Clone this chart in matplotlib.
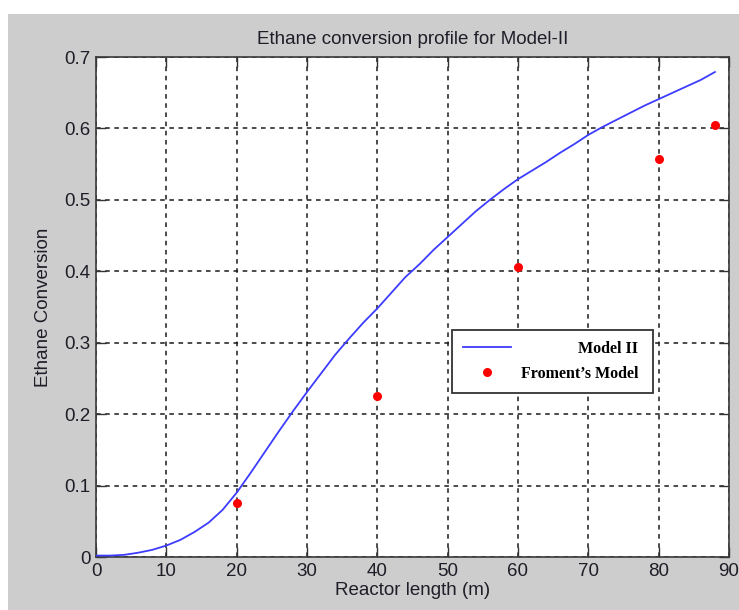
import matplotlib
matplotlib.use("Agg")
import matplotlib.pyplot as plt
from matplotlib.patches import Rectangle

# Model II simulated profile along the reactor
length_model = [0, 2, 4, 6, 8, 10, 12, 14, 16, 18, 20, 22, 24, 26, 28, 30,
                32, 34, 36, 38, 40, 42, 44, 46, 48, 50, 52, 54, 56, 58, 60,
                62, 64, 66, 68, 70, 72, 74, 76, 78, 80, 82, 84, 86, 88]
conv_model = [0.002, 0.002, 0.003, 0.006, 0.010, 0.016, 0.024, 0.035, 0.048,
              0.066, 0.090, 0.118, 0.147, 0.176, 0.204, 0.231, 0.257, 0.283,
              0.306, 0.328, 0.348, 0.370, 0.392, 0.410, 0.430, 0.448, 0.466,
              0.484, 0.500, 0.515, 0.529, 0.541, 0.553, 0.566, 0.578, 0.591,
              0.602, 0.612, 0.622, 0.632, 0.641, 0.650, 0.659, 0.668, 0.679]

# Froment's model reference points
length_froment = [20, 40, 60, 80, 88]
conv_froment = [0.076, 0.226, 0.406, 0.557, 0.605]

x_ticks = [0, 10, 20, 30, 40, 50, 60, 70, 80, 90]
y_ticks = [0, 0.1, 0.2, 0.3, 0.4, 0.5, 0.6, 0.7]
y_tick_labels = ["0", "0.1", "0.2", "0.3", "0.4", "0.5", "0.6", "0.7"]

W, H = 739, 610
fig = plt.figure(figsize=(W / 100, H / 100), dpi=100)
fig.patch.set_facecolor("white")
fig.patches.append(Rectangle((8 / W, 0), 1 - 8 / W, 1 - 14 / H,
                             transform=fig.transFigure, facecolor="#cdcdcd",
                             edgecolor="none", zorder=-10))

ax = fig.add_axes([96 / W, (H - 557) / H, 633 / W, 500 / H])
ax.set_facecolor("white")

font = ["Liberation Sans", "DejaVu Sans"]
txt_color = "#1e1e28"

ax.plot(length_model, conv_model, color="#3c3cff", lw=1.3, label="Model II",
        zorder=3)
ax.plot(length_froment, conv_froment, linestyle="none", marker="o",
        markersize=6.5, color="#ff0000", markeredgewidth=0,
        label="Froment\u2019s Model", zorder=4)

ax.set_xlim(0, 90)
ax.set_ylim(0, 0.7)
ax.set_xticks(x_ticks)
ax.set_xticklabels([str(t) for t in x_ticks], family=font, fontsize=13.5,
                   color=txt_color)
ax.set_yticks(y_ticks)
ax.set_yticklabels(y_tick_labels, family=font, fontsize=13.5, color=txt_color)
ax.tick_params(direction="in", length=7, width=1.0, color="#333333",
               top=True, right=True, pad=4)

ax.grid(True, color="#1a1a1a", linestyle=(0, (3, 3)), linewidth=1.1)
ax.set_axisbelow(True)
for sp in ax.spines.values():
    sp.set_color("#3a3a3a")
    sp.set_linewidth(1.2)

ax.set_title("Ethane conversion profile for Model-II", family=font,
             fontsize=13.5, color=txt_color, pad=9)
ax.set_xlabel("Reactor length (m)", family=font, fontsize=13.5,
              color=txt_color, labelpad=1.5)
ax.set_ylabel("Ethane Conversion", family=font, fontsize=13.5,
              color=txt_color, labelpad=8.5)

leg = ax.legend(loc="lower left", bbox_to_anchor=(0.5624, 0.328, 0.318, 0.13),
                mode="expand", borderaxespad=0, frameon=True, fancybox=False,
                framealpha=1, edgecolor="#333333", handlelength=3.0,
                handletextpad=0.2, borderpad=0.7, labelspacing=0.55,
                prop={"family": ["Liberation Serif", "DejaVu Serif"],
                      "weight": "bold", "size": 11.5})
leg.get_frame().set_linewidth(1.3)

# right-align the legend labels against the frame's right edge
fig.canvas.draw()
renderer = fig.canvas.get_renderer()
frame_right = leg.get_frame().get_window_extent(renderer).x1
for t in leg.get_texts():
    bb = t.get_window_extent(renderer)
    t.set_x(frame_right - 15 - bb.x1)

fig.savefig("out.png", dpi=100)
